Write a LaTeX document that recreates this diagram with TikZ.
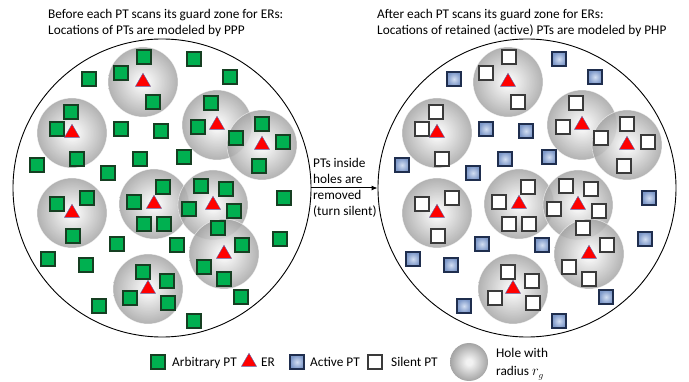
\documentclass[tikz,border=0pt]{standalone}
\usepackage{fontspec}
\setmainfont{Carlito}
\usetikzlibrary{shapes.geometric,arrows.meta}
\definecolor{ptgreen}{HTML}{00B050}
\definecolor{ptgreenb}{HTML}{163F22}
\definecolor{hc0}{HTML}{F2F2F2}
\definecolor{hc1}{HTML}{A4A4A4}
\definecolor{bl0}{HTML}{D2DEF2}
\definecolor{bl1}{HTML}{7C97C8}
\definecolor{blb}{HTML}{1F2E4E}
\definecolor{wsqb}{HTML}{3A3A3A}
\definecolor{erline}{HTML}{5E6AAE}
\pgfdeclareradialshading{holeshade}{\pgfpoint{0bp}{0bp}}{color(0bp)=(hc0); color(4bp)=(hc0); color(25bp)=(hc1); color(50bp)=(hc1)}
\pgfdeclareradialshading{blueshade}{\pgfpoint{0bp}{0bp}}{color(0bp)=(bl0); color(25bp)=(bl1); color(50bp)=(bl1)}
\def\holes{143/82,72/133,217/125,262/145,72/213,154/204,213/205,224/254,148/289}
\def\insq{144/57,121/73,153/102,71/112,211/103,57/129,198/127,262/124,283/142,236/138,77/159,259/166,163/187,87/198,57/204,134/202,201/186,226/189,189/209,234/211,73/236,144/224,164/224,218/228,242/245,204/267,224/279,143/272,167/281,130/298,168/303}
\def\outsq{194/59,89/79,230/77,121/129,161/131,140/159,184/157,37/165,108/173,284/198,117/244,177/245,280/239,48/259,86/265,99/306,241/297,194/321}
\begin{document}
\begin{tikzpicture}[x=1pt,y=-1pt,
  font=\fontsize{13.3}{16}\selectfont,
  ptsq/.style={rectangle, minimum size=14pt, inner sep=0pt, line width=1.2pt},
  gsq/.style={ptsq, draw=ptgreenb, fill=ptgreen},
  wsq/.style={ptsq, draw=wsqb, fill=white},
  bsq/.style={ptsq, draw=blb, shade, shading=blueshade},
  er/.style={regular polygon, regular polygon sides=3, minimum size=17.5pt, inner sep=0pt, fill=red, draw=erline, line width=0.4pt},
  hole/.style={shade, shading=holeshade, fill opacity=0.85},
  holeline/.style={draw=white, draw opacity=0.6, line width=0.6pt},
  bigc/.style={circle, draw=black, line width=0.9pt, minimum size=298pt, inner sep=0pt},
  lbl/.style={anchor=base west, inner sep=0pt}]
\useasboundingbox (0,0) rectangle (689,382);

% big circles
\node[bigc] (L) at (162,188) {};
\node[bigc] (R) at (527,188) {};

% titles
\node[lbl] (t1) at (48,18.5) {Before each PT scans its guard zone for ERs:};
\node[lbl] (t2) at (48,34.5) {Locations of PTs are modeled by PPP};
\node[lbl] (t3) at (377,18.5) {After each PT scans its guard zone for ERs:};
\node[lbl] (t4) at (377,34.5) {Locations of retained (active) PTs are modeled by PHP};

% left diagram
\foreach \x/\y in \holes { \shade[hole] (\x,\y) circle (35); \draw[holeline] (\x,\y) circle (35); }
\foreach \x/\y [count=\i] in \insq { \node[gsq] (gi\i) at (\x,\y) {}; }
\foreach \x/\y [count=\i] in \outsq { \node[gsq] (go\i) at (\x,\y) {}; }
\foreach \x/\y [count=\i] in \holes { \node[er] (ea\i) at (\x,\y) {}; }

% right diagram
\begin{scope}[xshift=365]
\foreach \x/\y in \holes { \shade[hole] (\x,\y) circle (35); \draw[holeline] (\x,\y) circle (35); }
\foreach \x/\y [count=\i] in \insq { \node[wsq] (ri\i) at (\x,\y) {}; }
\foreach \x/\y [count=\i] in \outsq { \node[bsq] (ro\i) at (\x,\y) {}; }
\foreach \x/\y [count=\i] in \holes { \node[er] (eb\i) at (\x,\y) {}; }
\end{scope}

% middle arrow and text
\draw[-{Latex[length=6pt,width=5pt]}, line width=1pt] (L.east) -- (R.west);
\node[lbl] (m1) at (313,167.5) {PTs inside};
\node[lbl] (m2) at (313,183.5) {holes are};
\node[lbl] (m3) at (313,199.5) {removed};
\node[lbl] (m4) at (313,215.5) {(turn silent)};

% legend
\node[gsq] (lg) at (158,362) {};
\node[lbl] (lgt) at (172,366.5) {Arbitrary PT};
\node[er] (le) at (249,362) {};
\node[lbl] (let) at (261,366.5) {ER};
\node[bsq] (lb) at (297,362) {};
\node[lbl] (lbt) at (310,366.5) {Active PT};
\node[wsq] (lw) at (375,362) {};
\node[lbl] (lwt) at (391,366.5) {Silent PT};
\shade[shading=holeshade] (469,362) circle (19);
\node[lbl] (lh1) at (496,357.5) {Hole with};
\node[lbl] (lh2) at (496,376) {radius $r_g$};
\end{tikzpicture}
\end{document}
